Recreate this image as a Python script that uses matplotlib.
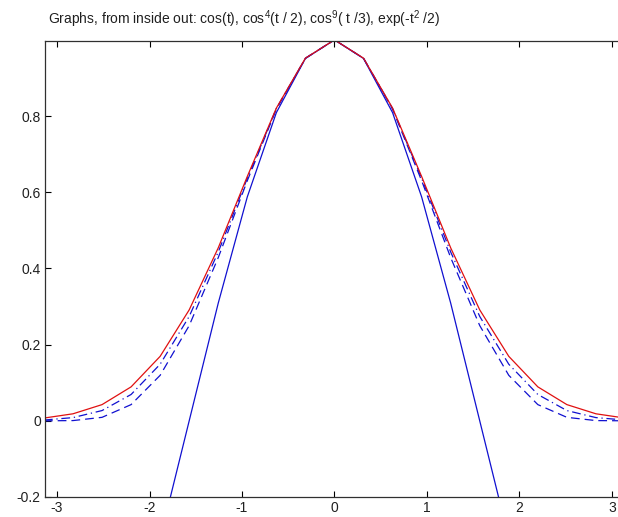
import matplotlib
matplotlib.use("Agg")
import matplotlib.pyplot as plt

plt.rcParams['font.family'] = ['Liberation Sans', 'DejaVu Sans']
plt.rcParams['mathtext.fontset'] = 'custom'
plt.rcParams['mathtext.rm'] = 'Liberation Sans'
plt.rcParams['mathtext.it'] = 'Liberation Sans'

# sample points t = -pi .. pi, step pi/10
t = [-3.1416, -2.8274, -2.5133, -2.1991, -1.8850, -1.5708, -1.2566, -0.9425,
     -0.6283, -0.3142, 0.0, 0.3142, 0.6283, 0.9425, 1.2566, 1.5708,
     1.8850, 2.1991, 2.5133, 2.8274, 3.1416]

# (symmetric about t = 0)
cos_t = [-1.0, -0.9511, -0.8090, -0.5878, -0.3090, 0.0, 0.3090, 0.5878,
         0.8090, 0.9511, 1.0, 0.9511, 0.8090, 0.5878, 0.3090, 0.0,
         -0.3090, -0.5878, -0.8090, -0.9511, -1.0]
cos4_half = [0.0, 0.0006, 0.0091, 0.0425, 0.1194, 0.25, 0.4284, 0.6303,
             0.8181, 0.9517, 1.0, 0.9517, 0.8181, 0.6303, 0.4284, 0.25,
             0.1194, 0.0425, 0.0091, 0.0006, 0.0]
cos9_third = [0.0020, 0.0084, 0.0269, 0.0691, 0.1485, 0.2740, 0.4432, 0.6366,
              0.8197, 0.9517, 1.0, 0.9517, 0.8197, 0.6366, 0.4432, 0.2740,
              0.1485, 0.0691, 0.0269, 0.0084, 0.0020]
gauss = [0.0072, 0.0184, 0.0425, 0.0891, 0.1692, 0.2912, 0.4541, 0.6414,
         0.8209, 0.9519, 1.0, 0.9519, 0.8209, 0.6414, 0.4541, 0.2912,
         0.1692, 0.0891, 0.0425, 0.0184, 0.0072]

yticks = [-0.2, 0, 0.2, 0.4, 0.6, 0.8]
xticks = [-3, -2, -1, 0, 1, 2, 3]

fig = plt.figure(figsize=(6.18, 5.17), dpi=100)
# axes run a bit past the right edge of the picture, as in the original
ax = fig.add_axes([45 / 618, 20 / 517, 580 / 618, 456 / 517])

ax.plot(t, cos_t, color='#1010d0', lw=0.9)
ax.plot(t, cos4_half, color='#1010d0', lw=0.9, dashes=(7, 4))
ax.plot(t, cos9_third, color='#1010d0', lw=0.9, dashes=(7, 3, 1, 3))
ax.plot(t, gauss, color='#e01010', lw=0.9)

ax.set_xlim(-3.13, 3.1416)
ax.set_ylim(-0.2, 0.997)
ax.set_xticks(xticks)
ax.set_yticks(yticks)
ax.set_xticklabels([str(v) for v in xticks])
ax.set_yticklabels(['-0.2', '0', '0.2', '0.4', '0.6', '0.8'])
ax.tick_params(direction='in', length=4, width=0.8, labelsize=10,
               top=True, right=True, pad=3, labelcolor='#202020')
for s in ax.spines.values():
    s.set_linewidth(0.9)
    s.set_color('#303030')

fig.text(48 / 618, 1 - 24 / 517,
         r"Graphs, from inside out: cos(t), cos$^4$(t / 2), cos$^9$( t /3), exp(-t$^2$ /2)",
         fontsize=10, ha='left', va='baseline', color='#202020')

fig.savefig("out.png", dpi=100)
